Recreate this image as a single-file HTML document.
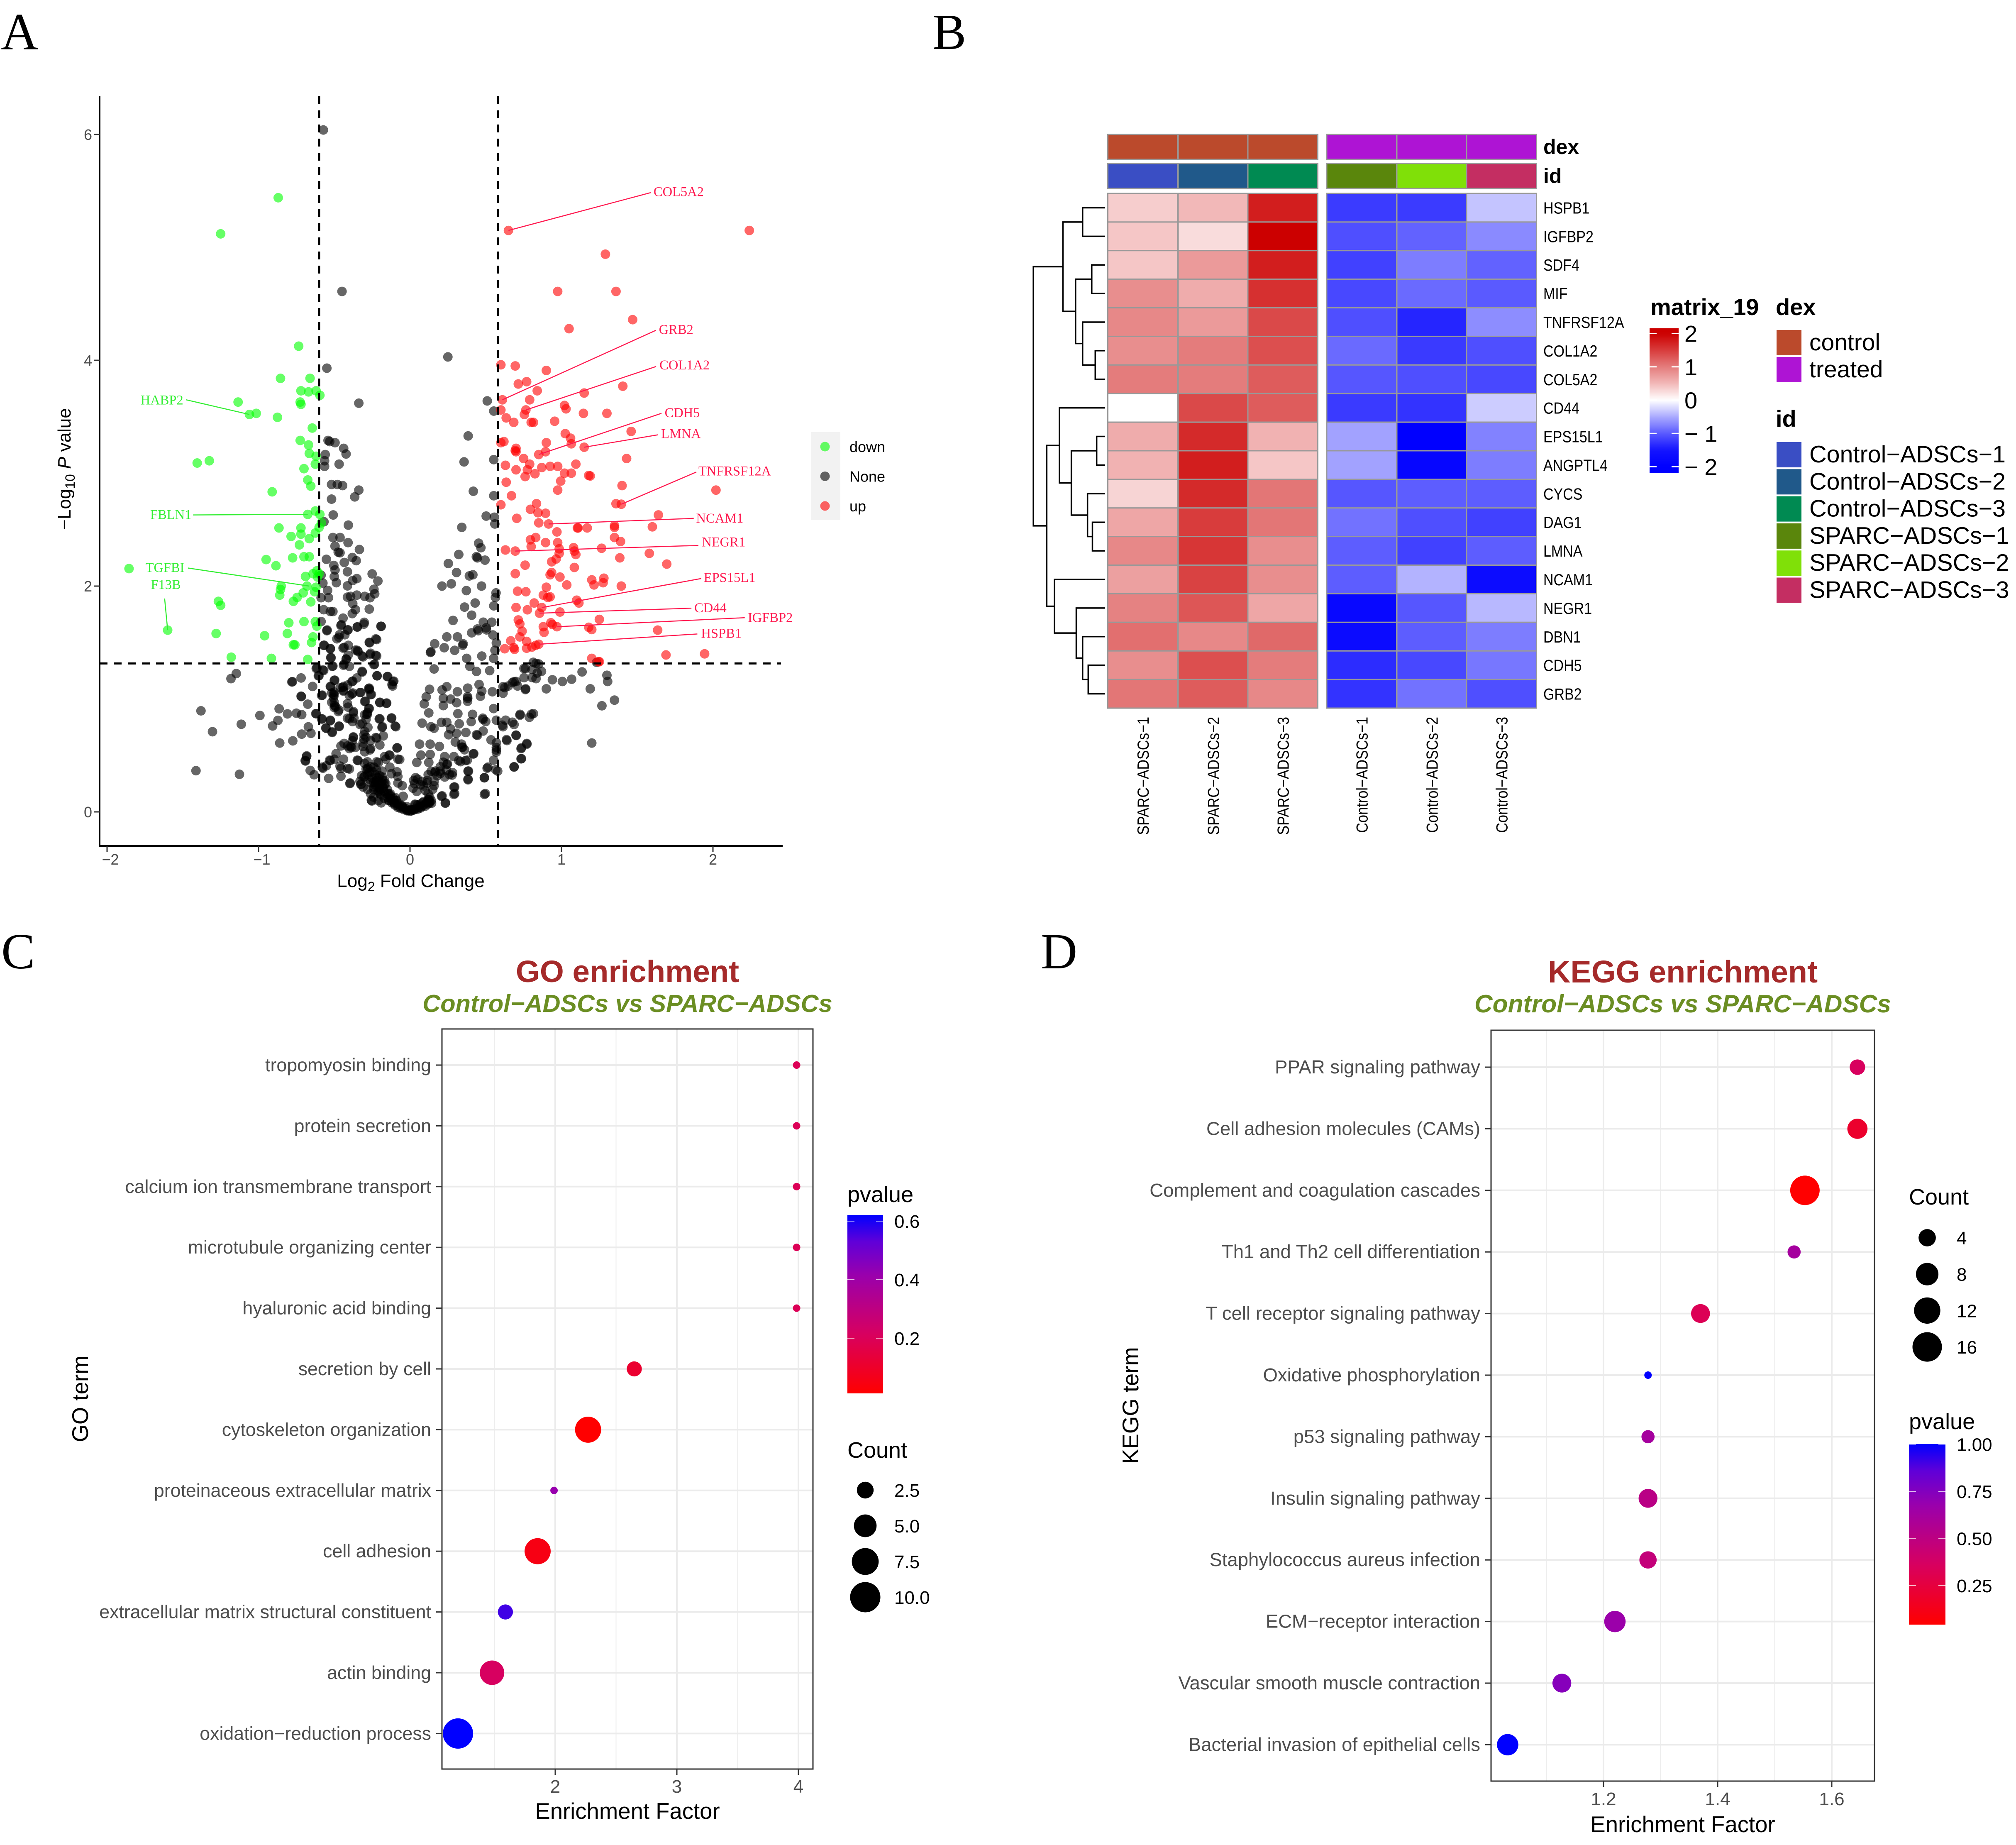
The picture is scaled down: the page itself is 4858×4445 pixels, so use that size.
<!DOCTYPE html>
<html lang="en">
<head>
<meta charset="utf-8">
<title>Differential expression figure</title>
<style>
html,body{margin:0;padding:0;background:#fff}
svg{display:block}
text{font-family:"Liberation Sans",Arial,sans-serif}
.serif{font-family:"Liberation Serif","Times New Roman",serif}
</style>
</head>
<body>
<svg id="fig" xmlns="http://www.w3.org/2000/svg" width="4858" height="4445" viewBox="0 0 4858 4445">
<rect x="0" y="0" width="4858" height="4445" fill="#fff"/>
<defs>
<linearGradient id="heatGrad" x1="0" y1="0" x2="0" y2="1"></linearGradient>
<linearGradient id="pGrad" x1="0" y1="1" x2="0" y2="0">
<stop offset="0" stop-color="#ff0000"/><stop offset="0.33" stop-color="#d8005f"/><stop offset="0.66" stop-color="#9a00ac"/><stop offset="0.85" stop-color="#6000d8"/><stop offset="1" stop-color="#0000ff"/>
</linearGradient>
</defs>
<text class="serif" x="2" y="119" font-size="126">A</text>
<text class="serif" x="2247" y="118" font-size="122">B</text>
<text class="serif" x="3" y="2333" font-size="122">C</text>
<text class="serif" x="2508" y="2333" font-size="122">D</text>
<g id="panelA"></g>
<g id="panelB"></g>
<g id="panelC"></g>
<g id="panelD"></g>
</svg>
<script>
/* ---------- Panel A data: [log2FC, -log10P] ---------- */
const upPoints = [[.65,5.15],[2.24,5.15],[1.29,4.94],[.975,4.61],[1.36,4.61],[1.47,4.36],[1.05,4.28],[.6,3.96],[.695,3.95],[.9,3.91],[.715,3.79],[.77,3.81],[1.405,3.77],[.84,3.73],[1.15,3.71],[.61,3.65],[.79,3.65],[1.02,3.6],[1.03,3.57],[.6,3.56],[.765,3.56],[.755,3.52],[1.145,3.53],[1.3,3.53],[.635,3.49],[.685,3.45],[.955,3.46],[.8,3.45],[.815,3.45],[1.025,3.35],[1.46,3.37],[1.06,3.31],[1.065,3.26],[.6,3.27],[.62,3.28],[.9,3.27],[.695,3.2],[.7,3.22],[.7,3.19],[1.15,3.23],[.85,3.165],[.895,3.19],[.75,3.13],[1.43,3.13],[.63,3.07],[.79,3.08],[.775,3.03],[.87,3.05],[.925,3.06],[.975,3.06],[1.095,3.08],[.7,3.03],[.76,2.97],[.825,2.995],[1.02,3.0],[1.065,3.0],[1.18,2.98],[1.19,2.975],[.995,2.93],[.635,2.92],[1.4,2.89],[.975,2.85],[2.02,2.85],[.67,2.8],[.6,2.72],[.835,2.73],[1.36,2.73],[1.395,2.725],[.795,2.68],[.845,2.65],[.895,2.645],[.705,2.6],[1.64,2.63],[.85,2.56],[.915,2.55],[1.6,2.525],[1.35,2.535],[1.35,2.52],[1.105,2.515],[1.11,2.515],[1.17,2.515],[.97,2.48],[.795,2.41],[.83,2.43],[1.35,2.43],[1.39,2.395],[.895,2.385],[.975,2.385],[.985,2.33],[.985,2.29],[.63,2.32],[.695,2.31],[.8,2.35],[1.08,2.34],[1.085,2.31],[1.095,2.28],[1.265,2.335],[1.58,2.29],[1.385,2.25],[.965,2.24],[.935,2.215],[1.695,2.195],[.76,2.185],[1.085,2.165],[.695,2.11],[.935,2.12],[.925,2.1],[.99,2.08],[1.035,2.01],[1.2,2.055],[1.28,2.07],[1.275,2.03],[1.215,2.01],[1.395,2.0],[.9,1.99],[.71,1.955],[.765,1.95],[.88,1.92],[.91,1.9],[.925,1.905],[1.1,1.875],[1.115,1.85],[.82,1.85],[.7,1.81],[.87,1.81],[.775,1.79],[.855,1.76],[.99,1.77],[1.25,1.705],[.715,1.7],[.725,1.665],[.93,1.675],[.94,1.66],[.97,1.64],[.88,1.64],[1.18,1.635],[1.2,1.615],[1.635,1.61],[.74,1.6],[.885,1.59],[.725,1.55],[.665,1.515],[.77,1.51],[.83,1.475],[.85,1.485],[.805,1.46],[.625,1.445],[.685,1.455],[.69,1.44],[.77,1.45],[1.69,1.39],[1.945,1.4],[1.2,1.36],[1.245,1.33],[1.25,1.33]];
const downPoints = [[-.87,5.44],[-1.25,5.12],[-.735,4.125],[-.855,3.84],[-.66,3.84],[-.72,3.73],[-.67,3.72],[-.62,3.73],[-.595,3.69],[-.725,3.63],[-.72,3.61],[-1.135,3.63],[-1.06,3.52],[-1.015,3.53],[-.875,3.495],[-.645,3.4],[-.725,3.29],[-.67,3.25],[-.665,3.175],[-.62,3.15],[-.625,3.08],[-1.405,3.09],[-1.325,3.11],[-.7,3.04],[-.675,2.94],[-.655,2.885],[-.91,2.835],[-.675,2.635],[-.625,2.665],[-.595,2.635],[-.865,2.515],[-.72,2.515],[-.6,2.52],[-.585,2.56],[-.785,2.44],[-.72,2.46],[-.665,2.42],[-.625,2.47],[-.73,2.365],[-.775,2.25],[-.665,2.26],[-.95,2.235],[-.885,2.18],[-.7,2.26],[-1.855,2.155],[-.615,2.135],[-.6,2.11],[-.61,2.08],[-.64,2.11],[-.69,2.085],[-.85,2.0],[-.855,1.97],[-.86,1.92],[-.68,2.0],[-.62,1.99],[-.63,1.95],[-.705,1.94],[-.745,1.9],[-.77,1.865],[-.655,1.86],[-1.265,1.865],[-1.25,1.83],[-1.6,1.61],[-.7,1.685],[-.8,1.675],[-.625,1.685],[-.615,1.645],[-.81,1.58],[-1.28,1.58],[-.96,1.56],[-.64,1.55],[-.65,1.5],[-.77,1.48],[-.76,1.48],[-1.18,1.37],[-.915,1.36],[-.675,1.35]];
const nonePoints = [[-.572,6.04],[-.449,4.61],[.25,4.03],[-.549,3.93],[-.338,3.62],[.51,3.64],[.553,3.55],[.384,3.33],[-.541,3.29],[-.53,3.28],[-.495,3.27],[-.438,3.22],[-.422,3.17],[-.56,3.165],[-.564,3.11],[-.564,3.06],[-.468,3.08],[.357,3.1],[.553,3.12],[-.518,2.9],[-.48,2.9],[-.445,2.89],[-.338,2.85],[-.365,2.79],[-.518,2.77],[.418,2.84],[.553,2.8],[-.507,2.63],[-.568,2.57],[.503,2.62],[.557,2.61],[.56,2.55],[-.407,2.54],[.342,2.52],[.453,2.38],[.468,2.34],[.322,2.28],[.438,2.26],[.445,2.25],[.495,2.23],[.253,2.2],[.307,2.12],[.415,2.1],[.392,2.09],[.273,2.02],[.211,2.0],[.472,2.0],[.372,1.96],[.568,1.94],[.564,1.9],
[-.552,2.237],[-.509,2.43],[-.462,2.43],[-.409,2.385],[-.495,2.354],[-.474,2.3],[-.462,2.295],[-.334,2.324],[-.381,2.253],[-.355,2.225],[-.434,2.209],[-.503,2.183],[-.495,2.143],[-.413,2.127],[-.5,2.084],[-.486,2.03],[-.25,2.108],[-.212,2.045],[-.238,1.972],[-.233,1.932],[-.264,1.897],[-.299,1.909],[-.351,1.92],[-.378,2.049],[-.351,2.066],[-.413,2.002],[-.413,1.902],[-.392,1.909],[-.378,1.845],[-.36,1.791],[-.381,1.756],[-.269,1.796],[-.587,2.096],[-.575,2.026],[-.544,1.962],[-.587,1.897],[-.538,1.897],[-.57,1.791],[-.509,1.775],[-.526,1.775],[-.442,1.716],[-.302,1.679],[-.192,1.644],[-.348,1.639],[-.456,1.651],[-.413,1.611],[-.587,1.686],[-.547,1.611],[-.465,1.569],[-.483,1.533],[-.43,1.569],[-.57,1.475],[-.526,1.447],[-.442,1.451],[-.407,1.475],[-.36,1.433],[-.343,1.421],[-.267,1.498],[-.22,1.526],[-.264,1.393],[-.22,1.381],[-.316,1.381],[-.521,1.365],[-.421,1.353],[-.439,1.299],[-.509,1.292],[-.238,1.304],
[-.614,1.276],[-.57,1.252],[-.605,1.205],[-.316,1.245],[-.217,1.205],[-.15,1.198],[-.107,1.158],[-.119,1.128],[-.78,1.151],[-.719,1.186],[-.643,1.111],[-.5,1.165],[-.378,1.158],[-.413,1.123],[-.526,1.111],[-.439,1.111],[-.325,1.057],[-.273,1.093],[-.255,1.041],[-.579,1.034],[-.517,1.053],[-.5,1.034],[-.439,1.076],[-.378,1.053],[-.719,1.025],[-.675,.954],[-.619,.87],[-.517,.971],[-.5,.924],[-.474,.889],[-.413,.959],[-.374,.889],[-.299,.978],[-.273,.917],[-.281,.865],[-.199,.971],[-.154,.964],[-.203,.823],[-.123,.83],[-.185,.748],[-.098,.76],[-.413,.83],[-.579,.823],[-.526,.807],[-.469,.76],[-.556,.743],[-.514,.708],[-.316,.783],[-.299,.713],[-.22,.654],[-.176,.673],[-.374,.659],[-.413,.584],[-.456,.584],[-.386,.572],[-.36,.572],[-.299,.532],[-.264,.549],[-.084,.567],[-.133,.502],[-.168,.49],[-.683,.49],[-.692,.455],[-.5,.467],[-.526,.455],[-.439,.467],[-.579,.396],[-.552,.408],[-.456,.385],[-.413,.385],[-.343,.455],[-.281,.443],[-.22,.443],[-.159,.467],[-.08,.467],[-.133,.396],[-.185,.361],[-.238,.396],[-.281,.373],[-.299,.314],[-.22,.302],[-.168,.279],[-.123,.338],[-.08,.314],[-.395,.256],[-.325,.244],[-.255,.103],[-.238,.22],[-.203,.185],[-.176,.209],[-.142,.162],[-.08,.256],[-.098,.127],[-.045,.138],[-.019,.045],[.007,.021],[-.054,.056],[.033,.068],[.068,.068],[.112,.091],[.129,.08],[.024,.279],[.112,.256],[.164,.349],[.199,.361],[.243,.42],[.278,.326],[.208,.138],[.234,.08],[.295,.162],[.295,.22],[.383,.361],[.383,.291],[.491,.302],[.497,.162],[.514,.396],[.566,.373],[.418,.513],[.348,.572],[.322,.455],[.366,.455],[.445,.678],
[.135,1.412],[.138,1.418],[.163,1.489],[.226,1.454],[.243,1.55],[.313,1.55],[.295,1.431],[.351,1.489],[.348,1.476],[.407,1.586],[.451,1.605],[.505,1.612],[.547,1.567],[.57,1.496],[.561,1.431],[.552,1.36],[.474,1.38],[.374,1.36],[.395,1.289],[.439,1.244],[.526,1.251],[.159,1.266],[.129,1.086],[.107,1.019],[.094,.957],[.124,.877],[.212,1.08],[.243,1.109],[.22,1.006],[.268,.999],[.22,.941],[.308,.967],[.313,1.064],[.381,1.096],[.381,1.006],[.456,1.128],[.474,1.07],[.465,1.025],[.544,1.064],[.552,.915],[.614,1.109],[.649,1.115],[.687,1.154],[.71,1.115],[.762,1.083],[.753,1.189],[.832,1.18],[.762,1.27],[.806,1.261],[.832,1.315],[.614,1.051],[.316,.87],[.413,.864],[.483,.819],[.57,.812],[.631,.812],[.687,.774],[.727,.864],[.815,.87],[.788,.838],[.614,.754],[.701,.677],[.64,.632],[.771,.606],[.736,.567],[.736,.471],[.687,.4],[.579,.361],[.552,.458],[.509,.387],[.491,.303],[.491,.155],[.57,.548],[.57,.612],[.535,.638],[.421,.516],[.386,.361],[.383,.284],[.08,.786],[.138,.754],[.159,.741],[.208,.793],[.243,.793],[.268,.735],[.255,.683],[.325,.78],[.308,.696],[.369,.703],[.439,.683],[.483,.716],[.404,.799],[.299,.619],[.343,.574],[.194,.58],[.133,.6],[.063,.6],[-.086,.567],[.133,.509],[.072,.503],[.045,.438],[.124,.438],[.229,.49],[.247,.425],[.334,.445],[.378,.458],[.29,.49],[.168,.361],[.281,.348],[.229,.309],[.037,.303],[.115,.277],[.159,.232],[.29,.219],[.29,.155],[.233,.077],[.212,.142],[.045,.181],[.124,.11],[.089,.09],[.142,.077],[.037,.064],[-.016,.013],[.01,.019],[-.051,.039],[-.077,.052],[-.112,.09],[-.138,.103],
[-.584,1.031],[-.505,1.044],[-.444,1.102],[-.383,1.044],[-.269,1.096],[-.26,1.038],[-.295,.98],[-.199,.967],[-.156,.961],[-.269,.915],[-.287,.864],[-.374,.877],[-.4,.825],[-.47,.903],[-.409,.928],[-.497,.941],[-.199,.825],[-.121,.832],[-.094,.754],[-.182,.754],[-.278,.748],[-.33,.774],[-.304,.683],[-.304,.645],[-.226,.658],[-.374,.664],[-.199,.593],[-.26,.561],[-.392,.58],[-.435,.606],[-.488,.516],[-.531,.458],[-.462,.406],[-.4,.38],[-.348,.458],[-.304,.309],[-.322,.245],[-.252,.097],[-.278,.387],[-.208,.438],[-.138,.503],[-.068,.464],[-.086,.355],[-.051,.232],[-.182,.309],[-.226,.258],[-.199,.161],[-.129,.142],[-.103,.077],
[-1.38,.895],[-1.304,.71],[-1.114,.776],[-.991,.854],[-1.413,.365],[-1.126,.333],[-1.147,1.225],[-1.182,1.18],[-.776,1.153],[-.717,1.021],[-.864,.913],[-.809,.868],[-.75,.874],[-.715,.861],[-.622,.87],[-.872,.81],[-.907,.761],[-.671,.753],[-.654,.696],[-.715,.689],[-.86,.61],[-.774,.629],[-.682,.496],[-.69,.451],[-.659,.367],[-.633,.329],[-.584,.823],[-.526,.812],[-.554,.741],[-.514,.703],[-.467,.757],[-.575,.387],[-.537,.297],[-.397,.251],[-.456,.316],
[1.35,.99],[1.267,.94],[1.19,1.09],[1.3,1.21],[1.305,1.155],[1.136,1.24],[1.067,1.175],[1.006,1.155],[.94,1.17],[.9,1.09],[.84,1.23],[.868,1.245],[.85,1.31],[.814,1.325],[.752,1.27],[1.2,.61],[1.232,1.325],[.806,1.19],[.764,1.09],[.7,1.155],[.676,1.145],[.626,1.1],[.802,.866],[.726,.856],[.676,.794],[.61,.768],[.7,.68],[.637,.64],[.772,.6],[.733,.56],[.733,.47],[.687,.397],
[.284,1.696],[.36,1.814],[.43,1.85],[.407,1.742],[.484,1.68],[.54,1.68],[.553,1.825],[.445,1.62],[.503,1.63],
[-.549,1.605],[-.453,1.657],[-.348,1.637],[-.304,1.663],[-.19,1.644],[-.409,1.612],[-.47,1.547],[-.435,1.457],[-.226,1.532],[-.269,1.502],[-.566,1.476],[-.526,1.444],[-.348,1.431],[-.26,1.405],[-.226,1.386],[-.409,1.386],[-.523,1.367],[-.31,1.373],[-.421,1.354],[-.514,1.289],[-.435,1.309],[-.234,1.309],[-.4,1.289],[-.619,1.27],[-.575,1.257],[-.601,1.206],[-.316,1.238],[-.351,1.186],[-.218,1.206],[-.147,1.199],[-.112,1.154],[-.115,1.115],[-.497,1.167],[-.383,1.154],[-.523,1.109],[-.269,1.083],[-.33,1.057],
[-.3,.43],[-.29,.38],[-.28,.33],[-.27,.29],[-.26,.4],[-.25,.36],[-.25,.3],[-.24,.26],[-.24,.2],[-.23,.33],[-.22,.37],[-.22,.28],[-.22,.22],[-.21,.18],[-.2,.32],[-.2,.25],[-.2,.2],[-.19,.15],[-.18,.28],[-.18,.22],[-.17,.18],[-.17,.12],[-.16,.25],[-.15,.2],[-.15,.13],[-.14,.1],[-.13,.16],[-.12,.08],[-.11,.12],[-.1,.06],[-.09,.1],[-.08,.04],[-.07,.07],[-.06,.03],[-.05,.05],[-.04,.02],[-.03,.03],[-.02,.01],[-.01,.015],[0,.005],[.01,.01],[.02,.015],[.03,.02],[.04,.03],[.05,.025],[.06,.04],[.07,.035],[.08,.05],[.09,.06],[.1,.05],[.11,.08],[.12,.07],[.13,.09],[.14,.1],[.13,.13],[.12,.16],[.1,.19],[.09,.23],[.08,.27],[.07,.24],[.05,.29],[.03,.25],[.02,.21],[.15,.2],[.16,.27],[.18,.32],[.2,.4],[.2,.34],[.22,.44],[.24,.37],[.26,.33],[.14,.36],[.12,.33],[-.32,.32],[-.33,.27],[-.31,.22],[-.28,.2],[-.26,.16],[-.24,.13],[-.21,.1],[-.19,.08],
[-.505,1.01],[-.5,.97],[-.49,.93],[-.5,1.06],[-.46,1.1],[-.44,1.07],[-.4,1.03],[-.3,.86],[-.29,.82],[-.28,.88],[-.38,.8],[-.37,.83],[-.29,.66],[-.31,.61],[-.31,.58],[-.38,.63],[-.4,.56],[-.26,.63],[.38,1.02],[.38,.98],[.48,.83],[.5,.8],[.34,.6],[.36,.55],[.57,.57],[.57,.53],[-.27,.35],[-.26,.26],[-.23,.24],[-.21,.3],[-.19,.26],[-.17,.24],[-.15,.16],[-.13,.12],[-.1,.1],[-.08,.07],[.05,.06],[.08,.08],[.12,.11]];
const volcanoXTicks = [-2,-1,0,1,2];
const volcanoYTicks = [0,2,4,6];
const cutoffX = [-.6,.58];
const cutoffY = [1.315];
const legendGroups = ['down','None','up'];
const groupColors = ['#00ff00','#000000','#ff0000'];
/* [name, textX, textY, lineX, lineY, pointX, pointY, anchor, group] in data units */
const geneLabels = [
['COL5A2',1.608,5.495,1.589,5.485,.65,5.15,'start','up'],
['GRB2',1.643,4.273,1.623,4.265,.61,3.65,'start','up'],
['COL1A2',1.647,3.959,1.625,3.945,.765,3.56,'start','up'],
['CDH5',1.681,3.536,1.66,3.53,.85,3.165,'start','up'],
['LMNA',1.658,3.351,1.638,3.34,1.15,3.23,'start','up'],
['TNFRSF12A',1.904,3.02,1.89,3.01,1.395,2.725,'start','up'],
['NCAM1',1.889,2.603,1.873,2.6,.915,2.55,'start','up'],
['NEGR1',1.927,2.392,1.904,2.36,.695,2.31,'start','up'],
['EPS15L1',1.939,2.077,1.923,2.067,.87,1.81,'start','up'],
['CD44',1.877,1.809,1.858,1.804,.855,1.76,'start','up'],
['IGFBP2',2.23,1.722,2.21,1.72,.97,1.64,'start','up'],
['HSPB1',1.922,1.582,1.897,1.576,.85,1.485,'start','up'],
['HABP2',-1.497,3.649,-1.478,3.65,-1.06,3.52,'end','down'],
['FBLN1',-1.443,2.634,-1.432,2.63,-.675,2.635,'end','down'],
['TGFBI',-1.489,2.165,-1.466,2.16,-.665,2.0,'end','down'],
['F13B',-1.513,2.015,-1.62,1.89,-1.6,1.61,'end','down']
];
/* ---------- Panel B data ---------- */
const heatGenes = ['HSPB1','IGFBP2','SDF4','MIF','TNFRSF12A','COL1A2','COL5A2','CD44','EPS15L1','ANGPTL4','CYCS','DAG1','LMNA','NCAM1','NEGR1','DBN1','CDH5','GRB2'];
const heatSamples = ['SPARC−ADSCs−1','SPARC−ADSCs−2','SPARC−ADSCs−3','Control−ADSCs−1','Control−ADSCs−2','Control−ADSCs−3'];
const heatValues = [
[.35,.5,1.75,-1.22,-1.22,-.35],
[.4,.25,2,-1.08,-.95,-.7],
[.4,.75,1.75,-1.18,-.78,-.95],
[.85,.6,1.6,-1.13,-.9,-1],
[.9,.75,1.4,-1.08,-1.38,-.68],
[.85,1,1.35,-.9,-1.23,-1.08],
[1,1,1.25,-1.03,-1.08,-1.13],
[0,1.4,1.25,-1.23,-1.28,-.3],
[.6,1.65,.55,-.55,-2,-.75],
[.55,1.75,.4,-.55,-1.85,-.78],
[.3,1.65,1.05,-1.03,-.98,-.98],
[.65,1.5,1.05,-.85,-1.08,-1.18],
[.9,1.55,.85,-.98,-1.18,-.98],
[.7,1.45,.85,-.98,-.45,-1.7],
[.95,1.3,.65,-1.8,-1.03,-.42],
[1.1,.9,1.15,-1.72,-.98,-.78],
[.85,1.35,1,-1.33,-1.13,-.82],
[1.05,1.25,.9,-1.28,-.85,-1.08]
];
const heatTicks = [2,1,0,-1,-2];
const dexNames = ['control','treated'];
const dexColors = ['#bb4a2c','#ae14d4'];
const idNames = ['Control−ADSCs−1','Control−ADSCs−2','Control−ADSCs−3','SPARC−ADSCs−1','SPARC−ADSCs−2','SPARC−ADSCs−3'];
const idColors = ['#3a4ec4','#20598a','#008a52','#5a860c','#80e008','#c42e62'];
const colDex = [0,0,0,1,1,1];
const colId = [0,1,2,3,4,5];
/* dendrogram: [height, childA, childB]; integers are leaf rows */
const dendroTree = [102,
 [60,[32,0,1],[42,[19,2,3],[32,4,[14,5,6]]]],
 [83,[65,7,[48,[12,8,9],[25,10,[18,11,12]]]],[72,13,[41,14,[32,15,[24,16,17]]]]]
];
/* ---------- Panel C data ---------- */
const goTerms = ['tropomyosin binding','protein secretion','calcium ion transmembrane transport','microtubule organizing center','hyaluronic acid binding','secretion by cell','cytoskeleton organization','proteinaceous extracellular matrix','cell adhesion','extracellular matrix structural constituent','actin binding','oxidation−reduction process'];
const goFactor = [3.985,3.985,3.985,3.985,3.985,2.65,2.27,1.99,1.855,1.59,1.48,1.2];
const goCount = [1,1,1,1,1,2,7,1,7,2,6,10];
const goP = [.2,.2,.2,.2,.2,.12,.02,.42,.06,.56,.22,.62];
const goXTicks = [2,3,4];
const goXMinor = [1.5,2.5,3.5];
const goCountLegend = [2.5,5,7.5,10];
const goCountLabels = ['2.5','5.0','7.5','10.0'];
const goPTicks = [.6,.4,.2];
const goPLabels = ['0.6','0.4','0.2'];
/* ---------- Panel D data ---------- */
const keggTerms = ['PPAR signaling pathway','Cell adhesion molecules (CAMs)','Complement and coagulation cascades','Th1 and Th2 cell differentiation','T cell receptor signaling pathway','Oxidative phosphorylation','p53 signaling pathway','Insulin signaling pathway','Staphylococcus aureus infection','ECM−receptor interaction','Vascular smooth muscle contraction','Bacterial invasion of epithelial cells'];
const keggFactor = [1.645,1.645,1.553,1.534,1.37,1.278,1.278,1.278,1.278,1.22,1.127,1.032];
const keggCount = [3,6,16,2,5,1,2,5,4,7,5,7];
const keggP = [.36,.2,.05,.62,.33,1,.62,.52,.47,.67,.74,1];
const keggXTicks = [1.2,1.4,1.6];
const keggXMinor = [1.1,1.3,1.5];
const keggCountLegend = [4,8,12,16];
const keggCountLabels = ['4','8','12','16'];
const keggPTicks = [1,.75,.5,.25];
const keggPLabels = ['1.00','0.75','0.50','0.25'];

const NS='http://www.w3.org/2000/svg';
function mk(tag,attrs,parent,txt){
  const e=document.createElementNS(NS,tag);
  for(const k in attrs){e.setAttribute(k,attrs[k]);}
  if(txt!==undefined){e.textContent=txt;}
  parent.appendChild(e);
  return e;
}
function lerpHex(a,b,t){
  const pa=[1,3,5].map(i=>parseInt(a.substr(i,2),16));
  const pb=[1,3,5].map(i=>parseInt(b.substr(i,2),16));
  return 'rgb('+pa.map((v,i)=>Math.round(v+(pb[i]-v)*t)).join(',')+')';
}
function ramp(stops,v){
  if(v<=stops[0][0]){return stops[0][1];}
  for(let i=1;i<stops.length;i++){
    if(v<=stops[i][0]){
      const t=(v-stops[i-1][0])/(stops[i][0]-stops[i-1][0]);
      return lerpHex(stops[i-1][1],stops[i][1],t);
    }
  }
  return stops[stops.length-1][1];
}

/* ========== Panel A ========== */
(function(){
  const g=document.getElementById('panelA');
  const X=v=>988+365*v;
  const Y=v=>1956-272*v;
  const R=11.5;
  const drawPoints=(pts,color,name)=>{
    const layer=mk('g',{},g);
    
    
    pts.forEach(p=>{
      const c=mk('circle',{cx:X(p[0]),cy:Y(p[1]),r:R,fill:color,'fill-opacity':.6},layer);
      
      
    });
  };
  drawPoints(nonePoints,groupColors[1],'none');
  drawPoints(downPoints,groupColors[0],'down');
  drawPoints(upPoints,groupColors[2],'up');
  cutoffX.forEach(v=>{
    const l=mk('line',{x1:X(v),x2:X(v),y1:232,y2:2038,stroke:'#000','stroke-width':5,'stroke-dasharray':'19 15'},g);
    
    
  });
  cutoffY.forEach(v=>{
    const l=mk('line',{x1:240,x2:1882,y1:Y(v),y2:Y(v),stroke:'#000','stroke-width':5,'stroke-dasharray':'19 15'},g);
    
    
  });
  const ax=mk('line',{x1:240,x2:240,y1:232,y2:2040,stroke:'#000','stroke-width':4},g);
  
  
  const ay=mk('line',{x1:238,x2:1886,y1:2038,y2:2038,stroke:'#000','stroke-width':4},g);
  
  
  volcanoXTicks.forEach(v=>{
    const t=mk('line',{x1:X(v),x2:X(v),y1:2038,y2:2052,stroke:'#333','stroke-width':3},g);
    
    
    const s=mk('text',{x:X(v)+(v<0?8:0),y:2083,'font-size':36,fill:'#4d4d4d','text-anchor':'middle'},g,String(v).replace('-','−'));
    
    
  });
  volcanoYTicks.forEach(v=>{
    const t=mk('line',{x1:226,x2:240,y1:Y(v),y2:Y(v),stroke:'#333','stroke-width':3},g);
    
    
    const s=mk('text',{x:222,y:Y(v)+13,'font-size':36,fill:'#4d4d4d','text-anchor':'end'},g,String(v));
    
    
  });
  const xt=mk('text',{x:990,y:2137,'font-size':44,fill:'#000','text-anchor':'middle'},g);
  
  
  mk('tspan',{},xt,'Log');
  mk('tspan',{'font-size':32,dy:10},xt,'2');
  mk('tspan',{dy:-10},xt,' Fold Change');
  const yt=mk('text',{transform:'translate(170,1130) rotate(-90)','font-size':44,fill:'#000','text-anchor':'middle'},g);
  
  
  mk('tspan',{},yt,'−Log');
  mk('tspan',{'font-size':32,dy:10},yt,'10');
  mk('tspan',{dy:-10,'font-style':'italic'},yt,' P');
  mk('tspan',{},yt,' value');
  const lb=mk('rect',{x:1954,y:1041,width:71,height:212,fill:'#f2f2f2'},g);
  
  
  legendGroups.forEach((n,i)=>{
    const y=1076+71.5*i;
    const c=mk('circle',{cx:1988,cy:y,r:11.5,fill:groupColors[i],'fill-opacity':.6},g);
    
    
    const s=mk('text',{x:2047,y:y+13,'font-size':36,fill:'#000'},g,n);
    
    
  });
  geneLabels.forEach(r=>{
    const color=r[8]==='up'?'#ff1a50':'#33ee33';
    const l=mk('line',{x1:X(r[3]),y1:Y(r[4]),x2:X(r[5]),y2:Y(r[6]),stroke:color,'stroke-width':2.5},g);
    
    
    const s=mk('text',{class:'serif',x:X(r[1]),y:Y(r[2])+11,'font-size':32.5,fill:color,'text-anchor':r[7]},g,r[0]);
    
    
  });
})();

/* ========== Panel B ========== */
(function(){
  const g=document.getElementById('panelB');
  const stops=[[-2,'#0000ff'],[-1.5,'#1414ff'],[-1,'#5a5aff'],[-.5,'#aaaaff'],[0,'#ffffff'],[.5,'#f2b8b8'],[1,'#e47c7c'],[1.5,'#d83c3c'],[2,'#cc0000']];
  const colX=[2669.5,2839,3007,3197,3366,3534];
  const colW=168.5;
  const top=466, rowH=(1706-466)/18;
  const rowY=i=>top+rowH*i;
  const cellStroke='#999999';
  heatValues.forEach((row,i)=>{
    row.forEach((v,j)=>{
      const r=mk('rect',{x:colX[j],y:rowY(i),width:colW,height:rowH,fill:ramp(stops,v),stroke:cellStroke,'stroke-width':3},g);
      
      
    });
    const s=mk('text',{transform:'translate(3719,'+(rowY(i)+rowH/2+14)+') scale(1,1.15)','font-size':34,fill:'#000'},g,heatGenes[i]);
    
    
  });
  heatSamples.forEach((n,j)=>{
    const a=mk('rect',{x:colX[j],y:324,width:colW,height:60,fill:dexColors[colDex[j]],stroke:cellStroke,'stroke-width':3},g);
    
    
    const b=mk('rect',{x:colX[j],y:394,width:colW,height:60,fill:idColors[colId[j]],stroke:cellStroke,'stroke-width':3},g);
    
    
    const s=mk('text',{transform:'translate('+(colX[j]+colW/2+14)+',1727) rotate(-90) scale(1,1.15)','font-size':34,fill:'#000','text-anchor':'end'},g,n);
    
    
  });
  const dex=mk('text',{x:3719,y:371,'font-size':50,'font-weight':'bold'},g,'dex');
  
  
  const idT=mk('text',{x:3719,y:441,'font-size':50,'font-weight':'bold'},g,'id');
  
  
  /* dendrogram */
  const dX=h=>2663-h*1.695;
  const dendro=mk('g',{fill:'none',stroke:'#000','stroke-width':3.5},g);
  
  
  const walk=n=>{
    if(typeof n==='number'){return {x:dX(0),y:rowY(n)+rowH/2};}
    const a=walk(n[1]),b=walk(n[2]),x=dX(n[0]);
    const p=mk('path',{d:'M'+a.x+' '+a.y+'H'+x+'V'+b.y+'H'+b.x},dendro);
    
    
    return {x:x,y:(a.y+b.y)/2};
  };
  walk(dendroTree);
  /* colour legend */
  const grad=document.getElementById('heatGrad');
  const barTop=791,barBot=1139;
  const barY=v=>964-80.25*v;
  for(let k=0;k<=40;k++){
    const yy=barTop+(barBot-barTop)*k/40;
    const v=(964-yy)/80.25;
    mk('stop',{offset:k/40,'stop-color':ramp(stops,v)},grad);
  }
  const bar=mk('rect',{x:3975,y:barTop,width:70,height:barBot-barTop,fill:'url(#heatGrad)'},g);
  
  
  heatTicks.forEach(v=>{
    const a=mk('line',{x1:3975,x2:3992,y1:barY(v),y2:barY(v),stroke:'#fff','stroke-width':3},g);
    
    
    const b=mk('line',{x1:4028,x2:4045,y1:barY(v),y2:barY(v),stroke:'#fff','stroke-width':3},g);
    
    
    const s=mk('text',{x:4059,y:barY(v)+20,'font-size':56,fill:'#000'},g,String(v).replace('-','− '));
    
    
  });
  const m=mk('text',{x:3977,y:759,'font-size':56,'font-weight':'bold'},g,'matrix_19');
  
  
  const dt=mk('text',{x:4279,y:759,'font-size':56,'font-weight':'bold'},g,'dex');
  
  
  dexNames.forEach((n,i)=>{
    const y=795+65*i;
    const r=mk('rect',{x:4281,y:y,width:60,height:61,fill:dexColors[i]},g);
    
    
    const s=mk('text',{x:4360,y:y+49,'font-size':57,fill:'#000'},g,n);
    
    
  });
  const it=mk('text',{x:4279,y:1028,'font-size':56,'font-weight':'bold'},g,'id');
  
  
  idNames.forEach((n,i)=>{
    const y=1065+65.3*i;
    const r=mk('rect',{x:4281,y:y,width:60,height:61,fill:idColors[i]},g);
    
    
    const s=mk('text',{x:4360,y:y+49,'font-size':57.5,fill:'#000'},g,n);
    
    
  });
})();

/* ========== Panels C & D ========== */
function dotPanel(c){
  const g=document.getElementById(c.id);
  const P=c.box;
  const X=v=>c.x0+c.xs*(v-c.xRef);
  const Y=i=>c.rowTop+c.rowStep*i;
  const sizeOf=n=>c.dMin+(c.dMax-c.dMin)*Math.sqrt((n-1)/(c.cMax-1));
  const colOf=p=>{
    const t=(p-c.pMin)/(c.pMax-c.pMin);
    return ramp([[0,'#ff0000'],[.33,'#d8005f'],[.66,'#9a00ac'],[.85,'#6000d8'],[1,'#0000ff']],t);
  };
  c.xMinor.forEach(v=>{
    const l=mk('line',{x1:X(v),x2:X(v),y1:P.t,y2:P.b,stroke:'#ededed','stroke-width':2},g);
    
    
  });
  c.xTicks.forEach(v=>{
    const l=mk('line',{x1:X(v),x2:X(v),y1:P.t,y2:P.b,stroke:'#ebebeb','stroke-width':4},g);
    
    
    const t=mk('line',{x1:X(v),x2:X(v),y1:P.b,y2:P.b+14,stroke:'#333','stroke-width':3},g);
    
    
    const s=mk('text',{x:X(v),y:P.b+c.xLabelDy,'font-size':44,fill:'#4d4d4d','text-anchor':'middle'},g,String(v));
    
    
  });
  c.terms.forEach((n,i)=>{
    const l=mk('line',{x1:P.l,x2:P.r,y1:Y(i),y2:Y(i),stroke:'#ebebeb','stroke-width':4},g);
    
    
    const t=mk('line',{x1:P.l-14,x2:P.l,y1:Y(i),y2:Y(i),stroke:'#333','stroke-width':3},g);
    
    
    const s=mk('text',{x:P.l-26,y:Y(i)+15,'font-size':c.termFont,fill:'#4d4d4d','text-anchor':'end'},g,n);
    
    
  });
  const fr=mk('rect',{x:P.l,y:P.t,width:P.r-P.l,height:P.b-P.t,fill:'none',stroke:'#333','stroke-width':3},g);
  
  
  c.terms.forEach((n,i)=>{
    const d=mk('circle',{cx:X(c.factor[i]),cy:Y(i),r:sizeOf(c.count[i])/2,fill:colOf(c.p[i])},g);
    
    
  });
  const title=mk('text',{x:c.titleX,y:c.titleY,'font-size':c.titleFont,'font-weight':'bold',fill:'#a52a2a','text-anchor':'middle'},g,c.title);
  
  
  const sub=mk('text',{x:c.titleX,y:c.subY,'font-size':c.subFont,'font-weight':'bold','font-style':'italic',fill:'#6b8e23','text-anchor':'middle'},g,'Control−ADSCs vs SPARC−ADSCs');
  
  
  const xt=mk('text',{x:c.titleX,y:c.xTitleY,'font-size':54.5,fill:'#000','text-anchor':'middle'},g,'Enrichment Factor');
  
  
  const yt=mk('text',{transform:'translate('+c.yTitleX+','+c.yTitleY+') rotate(-90)','font-size':54.5,fill:'#000','text-anchor':'middle'},g,c.yTitle);
  
  
  /* p legend */
  const pt=mk('text',{x:c.legX,y:c.pTitleY,'font-size':54,fill:'#000'},g,'pvalue');
  
  
  const bar=mk('rect',{x:c.legX,y:c.barT,width:c.barW,height:c.barB-c.barT,fill:'url(#pGrad)'},g);
  
  
  c.pTicks.forEach((v,i)=>{
    const y=c.barY(v);
    const a=mk('line',{x1:c.legX,x2:c.legX+17,y1:y,y2:y,stroke:'#fff','stroke-opacity':.7,'stroke-width':2},g);
    
    
    const b=mk('line',{x1:c.legX+c.barW-17,x2:c.legX+c.barW,y1:y,y2:y,stroke:'#fff','stroke-opacity':.7,'stroke-width':2},g);
    
    
    const s=mk('text',{x:c.labX,y:y+16,'font-size':44,fill:'#000'},g,c.pLabels[i]);
    
    
  });
  /* count legend */
  const ct=mk('text',{x:c.legX,y:c.cTitleY,'font-size':54,fill:'#000'},g,'Count');
  
  
  c.countLegend.forEach((n,i)=>{
    const y=c.cY0+c.cStep*i;
    const d=mk('circle',{cx:c.legX+c.barW/2,cy:y,r:sizeOf(n)/2,fill:'#000'},g);
    
    
    const s=mk('text',{x:c.labX,y:y+16,'font-size':44,fill:'#000'},g,c.countLabels[i]);
    
    
  });
}
dotPanel({id:'panelC',box:{l:1065,r:1959,t:2479,b:4262},x0:1338,xs:293,xRef:2,rowTop:2566,rowStep:146.4,
  terms:goTerms,factor:goFactor,count:goCount,p:goP,xTicks:goXTicks,xMinor:goXMinor,xLabelDy:57,termFont:44.7,
  dMin:18,dMax:73,cMax:10,pMin:.02,pMax:.62,title:'GO enrichment',titleX:1512,titleY:2366,titleFont:74.5,subY:2438,subFont:59.5,xTitleY:4382,
  yTitle:'GO term',yTitleX:212,yTitleY:3370,legX:2042,labX:2155,barW:86,barT:2927,barB:3357,pTitleY:2896,
  barY:v=>3224-(v-.2)*705,pTicks:goPTicks,pLabels:goPLabels,cTitleY:3512,cY0:3590,cStep:86,countLegend:goCountLegend,countLabels:goCountLabels});
dotPanel({id:'panelD',box:{l:3593,r:4517,t:2482,b:4291},x0:3864,xs:1375,xRef:1.2,rowTop:2571,rowStep:148.4,
  terms:keggTerms,factor:keggFactor,count:keggCount,p:keggP,xTicks:keggXTicks,xMinor:keggXMinor,xLabelDy:58,termFont:45.5,
  dMin:18,dMax:71,cMax:16,pMin:.05,pMax:1,title:'KEGG enrichment',titleX:4055,titleY:2367,titleFont:75.5,subY:2439,subFont:60.5,xTitleY:4414,
  yTitle:'KEGG term',yTitleX:2743,yTitleY:3386,legX:4600,labX:4715,barW:88,barT:3479,barB:3914,pTitleY:3443,
  barY:v=>3820-(v-.25)*454,pTicks:keggPTicks,pLabels:keggPLabels,cTitleY:2902,cY0:2982,cStep:87.7,countLegend:keggCountLegend,countLabels:keggCountLabels});
</script>
</body>
</html>
